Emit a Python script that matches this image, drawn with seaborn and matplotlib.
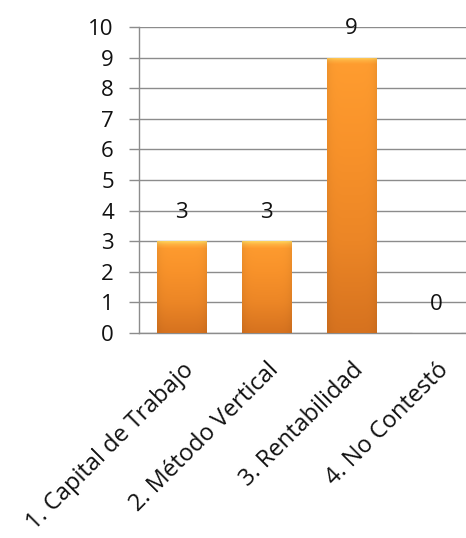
import matplotlib
matplotlib.use("Agg")
import matplotlib.pyplot as plt
import seaborn as sns
import numpy as np
import pandas as pd
from matplotlib.colors import LinearSegmentedColormap

# data
categories = ["1. Capital de Trabajo", "2. Método Vertical", "3. Rentabilidad", "4. No Contestó"]
values = [3, 3, 9, 0]

df = pd.DataFrame({"Categoria": categories, "Respuestas": values})

sns.set_style("white")
plt.rcParams["font.family"] = ["Open Sans", "DejaVu Sans"]

fig = plt.figure(figsize=(4.66, 5.38), dpi=100)
ax = fig.add_axes([0.298, 0.381, 0.730, 0.569])

sns.barplot(data=df, x="Categoria", y="Respuestas", color="#F79532",
            width=0.58, ax=ax, zorder=3)

# glossy orange shading inside each bar
body = LinearSegmentedColormap.from_list("body", ["#FF9D30", "#F8922A", "#EC8626", "#D6721F"])
bevel = LinearSegmentedColormap.from_list("bevel", ["#FFD45C", "#FFB040", "#FF9D30"])
xs = np.linspace(-1, 1, 64)
edge_shade = 1 - 0.06 * xs ** 6


def shaded(cmap, n=256):
    rgb = cmap(np.linspace(0, 1, n))[:, :3]
    return np.clip(rgb[:, None, :] * edge_shade[None, :, None], 0, 1)


for patch in ax.patches:
    x0, y0 = patch.get_x(), patch.get_y()
    w, h = patch.get_width(), patch.get_height()
    if h <= 0:
        continue
    im = ax.imshow(shaded(body), aspect="auto", extent=[x0, x0 + w, y0, y0 + h],
                   origin="upper", zorder=3.5)
    im.set_clip_path(patch)
    bv = ax.imshow(shaded(bevel, 32), aspect="auto",
                   extent=[x0, x0 + w, y0 + h - 0.22, y0 + h],
                   origin="upper", zorder=3.6)
    bv.set_clip_path(patch)
    patch.set_edgecolor("#C07530")
    patch.set_linewidth(0.7)

ax.bar_label(ax.containers[0], padding=13, fontsize=16, color="#111111")

ax.set_ylim(0, 10)
ax.set_xlim(-0.5, 3.5)
ax.set_yticks(range(0, 11))
ax.yaxis.grid(True, color="#8c8c8c", linewidth=1.0, zorder=0)
ax.set_axisbelow(True)

for side in ["top", "right"]:
    ax.spines[side].set_visible(False)
for side in ["left", "bottom"]:
    ax.spines[side].set_color("#8c8c8c")
    ax.spines[side].set_linewidth(1.0)

ax.tick_params(axis="y", length=7, width=1.0, color="#8c8c8c", labelsize=16,
               labelcolor="#111111", pad=11, left=True)
ax.tick_params(axis="x", length=0, labelsize=17, labelcolor="#111111", pad=18)
plt.setp(ax.get_xticklabels(), rotation=45, ha="right", rotation_mode="anchor")

ax.set_xlabel("")
ax.set_ylabel("")

fig.savefig("out.png", dpi=100)
